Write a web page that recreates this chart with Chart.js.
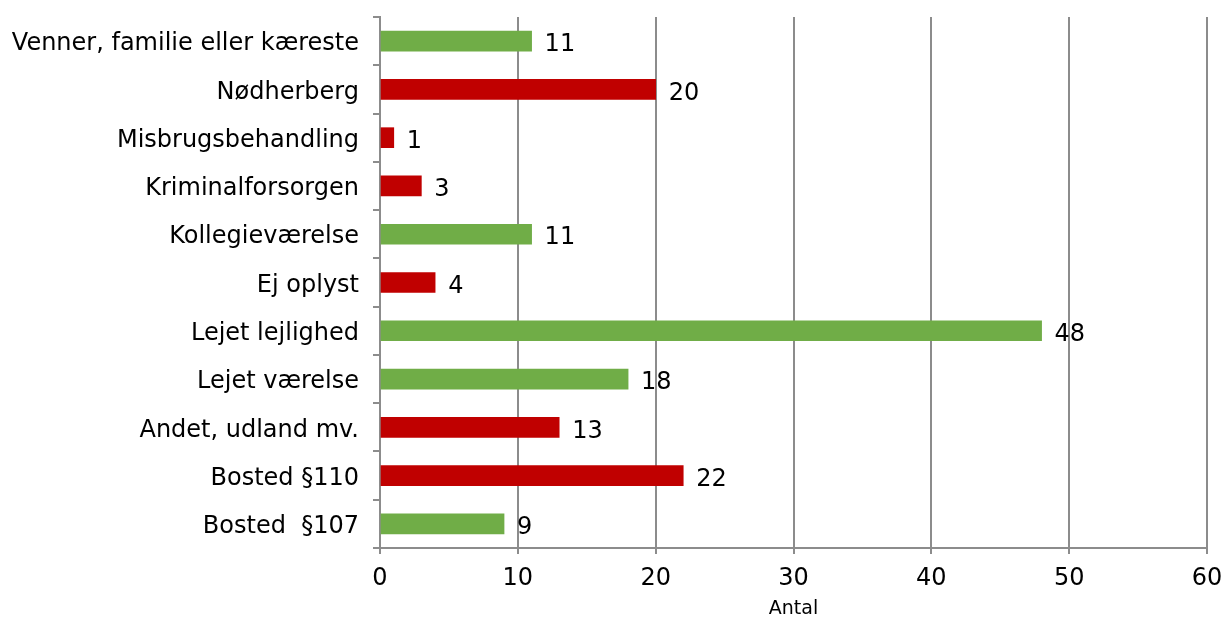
<!DOCTYPE html>
<html>
<head>
<meta charset="utf-8">
<script src="https://cdn.jsdelivr.net/npm/chart.js@4.4.0/dist/chart.umd.min.js"></script>
<style>
	html, body { margin: 0; padding: 0; background: #fff; }
	#wrap { width: 1222px; height: 617px; }
</style>
</head>
<body>
<div id="wrap"><canvas id="mainChart" width="1222" height="617"></canvas></div>
<script>
// --- Data ---
const categories = [
	'Venner, familie eller kæreste',
	'Nødherberg',
	'Misbrugsbehandling',
	'Kriminalforsorgen',
	'Kollegieværelse',
	'Ej oplyst',
	'Lejet lejlighed',
	'Lejet værelse',
	'Andet, udland mv.',
	'Bosted §110',
	'Bosted  §107'
];
const values = [11, 20, 1, 3, 11, 4, 48, 18, 13, 22, 9];
const xTicks = [0, 10, 20, 30, 40, 50, 60];

// --- Styles ---
const GREEN = '#70AD47';
const RED = '#C00000';
const barColors = [GREEN, RED, RED, RED, GREEN, RED, GREEN, GREEN, RED, RED, GREEN];
const GRID = '#8C8C8C';
const FONT = 'DejaVu Sans, Verdana, sans-serif';

// value labels to the right of each bar
const valueLabels = {
	id: 'valueLabels',
	afterDatasetsDraw(chart) {
		const ctx = chart.ctx;
		const meta = chart.getDatasetMeta(0);
		ctx.save();
		ctx.font = '24px ' + FONT;
		ctx.fillStyle = '#000';
		ctx.textAlign = 'left';
		ctx.textBaseline = 'middle';
		meta.data.forEach((bar, i) => {
			ctx.fillText(String(values[i]), bar.x + 13, bar.y + 4);
		});
		ctx.restore();
	}
};

new Chart(document.getElementById('mainChart'), {
	type: 'bar',
	data: {
		labels: categories,
		datasets: [{
			data: values,
			backgroundColor: barColors,
			barThickness: 20,
			borderWidth: 0
		}]
	},
	options: {
		indexAxis: 'y',
		responsive: false,
		animation: false,
		devicePixelRatio: 1,
		layout: { padding: { top: 17, right: 15, left: 0, bottom: 0 } },
		plugins: {
			legend: { display: false },
			tooltip: { enabled: false }
		},
		scales: {
			x: {
				min: 0,
				max: 60,
				afterBuildTicks: s => { s.ticks = xTicks.map(v => ({ value: v })); },
				afterFit: s => { s.height = 69; s.paddingLeft = 0; s.paddingRight = 0; },
				grid: { color: GRID, lineWidth: 2, tickLength: 6 },
				border: { color: GRID, width: 2 },
				ticks: { color: '#000', font: { family: FONT, size: 24 }, padding: 10 },
				title: {
					display: true,
					text: 'Antal',
					color: '#000',
					font: { family: FONT, size: 19, lineHeight: 0.8 },
					padding: { top: 0, bottom: 0 }
				}
			},
			y: {
				afterFit: s => { s.width = 380; s.paddingTop = 0; s.paddingBottom = 0; },
				grid: { drawOnChartArea: false, color: GRID, lineWidth: 2, tickLength: 7, offset: true },
				border: { color: GRID, width: 2 },
				ticks: { color: '#000', font: { family: FONT, size: 24 }, padding: 14, labelOffset: 3 }
			}
		}
	},
	plugins: [valueLabels]
});
</script>
</body>
</html>
